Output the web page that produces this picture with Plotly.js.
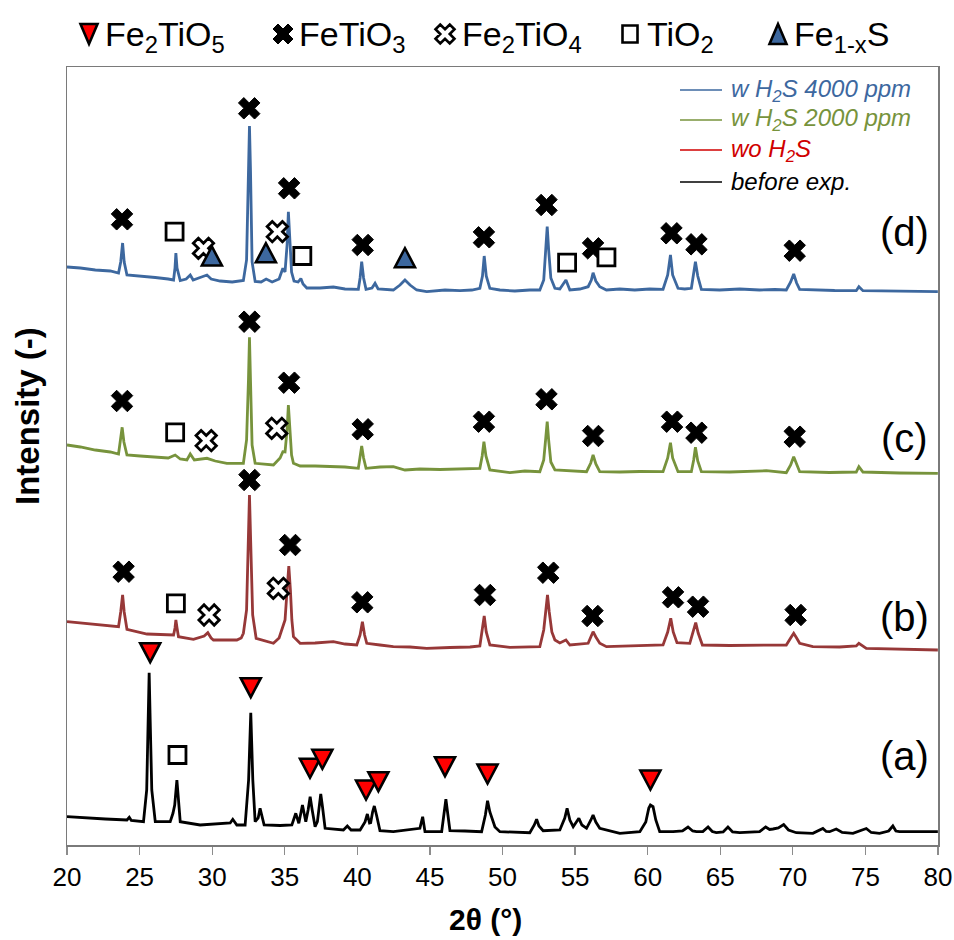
<!DOCTYPE html>
<html>
<head>
<meta charset="utf-8">
<script src="https://cdn.plot.ly/plotly-3.0.1.min.js"></script>
<style>html,body{margin:0;padding:0;background:#fff;}</style>
</head>
<body>
<div id="chart" style="width:954px;height:940px;"></div>
<script>
// XRD patterns: [2θ (°), stacked intensity (a.u.)]
const patternBefore = [
  [20.00,28.3],[21.26,27],[22.64,26],[24.13,25],[24.29,27.7],[24.43,24.5],[25.27,23.3],[25.49,55],[25.60,125],[25.66,172.3],
  [25.73,125],[25.84,55],[26.08,23.3],[27.11,23.3],[27.30,31.7],[27.42,40],[27.57,65],[27.69,40],[27.80,23.3],[29.17,20],
  [30.21,21],[31.24,22],[31.42,25.7],[31.70,20],[32.27,20],[32.51,65],[32.66,132.3],[32.80,65],[32.96,23.3],[33.17,27],
  [33.30,36.7],[33.44,27],[33.58,20],[34.68,19.5],[35.49,20],[35.76,31.7],[35.97,21.7],[36.22,40],[36.45,23.3],[36.61,35],
  [36.75,48.3],[36.89,35],[37.09,18.3],[37.25,23.3],[37.37,37],[37.48,51],[37.61,37],[37.78,16.7],[39.04,15],[39.31,19],
  [39.57,15],[40.19,15],[40.53,23],[40.69,31],[40.84,22],[40.92,22.3],[41.05,33],[41.17,39],[41.32,30],[41.56,14.3],
  [42.48,13.3],[43.63,15],[44.31,16.7],[44.50,28.3],[44.66,13.3],[45.81,13.3],[45.97,30],[46.10,45.7],[46.24,30],[46.38,14.3],
  [47.41,14],[48.56,13.3],[48.82,30],[48.97,44.3],[49.13,33],[49.32,25],[49.48,18],[49.82,13.3],[51.88,12.3],[52.19,20],
  [52.35,25.7],[52.51,19],[52.80,14.3],[53.95,15],[54.29,27],[54.45,36.7],[54.64,25],[54.87,18.3],[55.12,23],[55.26,26.7],
  [55.47,20],[55.79,16.7],[56.09,25],[56.24,30],[56.43,23],[56.70,16.7],[58.08,11.7],[59.46,13.3],[59.87,23],[60.08,37],
  [60.19,40],[60.37,38.3],[60.56,25],[60.83,13.3],[61.75,13.3],[62.40,14],[62.78,18],[63.10,14],[63.36,13.3],[63.80,13.5],
  [64.16,18],[64.45,13.5],[64.73,12.3],[65.20,13],[65.53,18],[65.85,13],[66.34,12.3],[67.71,13.3],[68.13,18],[68.40,15.5],
  [68.63,16],[69.00,17],[69.37,20.5],[69.70,15],[70.24,12.3],[71.38,11.7],[72.07,16.5],[72.30,13.5],[72.53,13.3],[72.99,16],
  [73.40,12.5],[74.14,11.7],[75.06,16.5],[75.40,12.5],[75.97,11.7],[76.60,14],[76.89,19],[77.10,14],[77.35,13.3],[78.73,13],[79.99,13.3]
];

const patternNoH2S = [
  [20.00,223.3],[20.92,222],[21.95,220.5],[22.98,219],[23.55,218.3],[23.70,233],[23.83,250],[23.94,233],[24.13,215.7],[25.51,211],
  [26.42,210.5],[27.34,210],[27.44,217],[27.50,225],[27.58,217],[27.68,208.3],[28.71,205.7],[29.45,209],[29.70,212.3],[29.93,207],
  [30.09,205],[31.70,205],[32.00,207],[32.15,211.7],[32.37,235],[32.50,305],[32.57,350],[32.65,305],[32.79,230],[33.03,206.7],
  [33.65,204],[34.22,201.7],[34.61,207],[34.87,218.3],[35.02,225],[35.16,255],[35.28,279],[35.39,255],[35.49,225],[35.60,208.3],
  [36.06,201.7],[37.09,202],[38.35,203.3],[39.15,201],[39.96,200],[40.19,210],[40.35,223.3],[40.50,210],[40.65,201.7],[41.56,200],
  [42.48,198.3],[43.63,198],[44.78,196.7],[46.38,197.5],[47.76,198],[48.44,199],[48.60,213],[48.74,229],[48.88,213],[49.13,200],
  [50.51,197.7],[51.54,198],[52.57,198.3],[52.84,215],[52.98,237],[53.10,250],[53.22,233],[53.40,213],[53.61,205],[53.95,202],
  [54.37,205],[54.64,200],[55.90,201.7],[56.12,209],[56.24,213.3],[56.43,208],[56.70,201.7],[57.16,198.3],[58.76,199],[61.06,200],
  [61.38,213],[61.59,226.7],[61.76,213],[62.02,202.3],[62.90,201.7],[63.14,213],[63.31,222.3],[63.48,212],[63.77,200],[65.65,199.5],
  [68.17,200],[69.55,200],[69.85,207],[70.06,211.7],[70.26,207],[70.47,201.7],[71.38,198.3],[73.22,198],[74.37,199],[74.55,201.7],
  [75.06,196.7],[77.35,196],[79.99,195]
];

const pattern2000 = [
  [20.00,400],[20.92,398],[21.95,395],[22.98,393],[23.55,391],[23.70,405],[23.80,417.7],[23.92,403],[24.13,390],[25.04,389],
  [26.08,388],[26.97,387],[27.45,390],[27.80,386],[28.26,385],[28.49,391],[28.77,385],[29.64,386.7],[30.21,384],[31.01,381.7],
  [32.15,381.7],[32.37,405],[32.50,465],[32.57,507.7],[32.64,465],[32.75,400],[32.96,381.7],[33.65,381],[34.22,380],[34.68,387],
  [34.87,393.3],[35.02,393],[35.16,415],[35.25,440],[35.35,415],[35.47,390],[35.60,381.7],[36.06,379],[37.09,379],[38.35,378.3],
  [39.15,378],[40.07,376.7],[40.19,387],[40.30,399],[40.43,387],[40.60,376.7],[41.56,378],[42.48,378.3],[43.28,375],[44.31,376],
  [45.69,375.5],[47.07,376],[48.44,376.7],[48.60,389],[48.72,403.3],[48.86,389],[49.13,375],[50.51,372.3],[51.54,374],[52.57,373.3],
  [52.84,385],[52.98,407],[53.08,423.3],[53.18,405],[53.33,383],[53.61,375],[54.64,374],[55.79,373.3],[56.08,382],[56.24,390],
  [56.43,381],[56.70,373.3],[58.08,373],[59.46,373.5],[61.06,373.3],[61.38,387],[61.57,402.3],[61.72,387],[62.09,373.3],[63.01,373.3],
  [63.17,385],[63.29,397.7],[63.45,384],[63.70,373.3],[65.65,373],[68.17,374.3],[69.55,372.3],[69.85,380],[70.06,388.3],[70.26,380],
  [70.47,373.3],[72.53,372.5],[74.37,373],[74.55,378.3],[74.83,373],[77.35,372],[79.99,371.7]
];

const pattern4000 = [
  [20.00,578],[20.92,577],[21.95,575],[22.98,574],[23.55,572],[23.70,583],[23.83,602],[23.94,583],[24.13,570],[25.04,569],
  [26.08,567.5],[26.97,566],[27.34,565],[27.44,577],[27.50,592],[27.58,577],[27.80,564.5],[28.21,566],[28.49,570],[28.69,565],
  [29.31,568],[29.64,570],[29.93,566],[30.55,564],[31.38,563],[32.15,564.5],[32.37,585],[32.50,675],[32.57,719],[32.64,675],
  [32.75,583],[32.96,563.5],[33.37,563],[33.72,566],[34.13,563],[34.61,566],[34.87,576.7],[35.02,573],[35.16,600],[35.25,633.3],
  [35.35,600],[35.47,573],[35.64,564],[35.92,563],[36.11,566.5],[36.26,561],[36.52,557],[37.43,557],[38.35,558],[39.15,556],
  [40.07,555.7],[40.19,567],[40.30,583.3],[40.43,567],[40.60,555.7],[41.01,557],[41.22,561.7],[41.43,556],[42.48,555],[42.94,560],
  [43.28,565],[43.63,560],[44.09,555],[44.78,553.3],[46.04,555],[47.07,554.3],[47.89,555],[48.44,556.7],[48.62,569],[48.74,589],
  [48.88,569],[49.13,556.7],[49.82,555],[50.85,554],[51.88,555],[52.57,555],[52.84,565],[52.98,595],[53.08,618.3],[53.18,595],
  [53.33,567],[53.61,556.7],[53.95,556],[54.37,565],[54.64,555],[55.33,556],[55.90,558.3],[56.12,565],[56.24,572.3],[56.43,564],
  [56.70,558.3],[57.16,555],[58.08,556],[59.11,555],[60.14,556],[61.06,555.7],[61.38,570],[61.57,590],[61.72,570],[62.09,556.7],
  [62.55,556],[63.01,556.7],[63.17,570],[63.29,583.3],[63.45,569],[63.70,555.7],[64.96,555],[66.34,556],[67.71,555],[68.75,555.5],
  [69.55,555],[69.85,563],[70.06,571],[70.26,562],[70.47,555.7],[71.50,555],[72.88,554.5],[74.37,554.3],[74.55,558.3],[74.83,554.3],
  [75.97,554],[77.35,553.5],[78.73,553],[79.99,553.3]
];

// Phase identification markers: [2θ (°), label height (a.u.)]
const markFe2TiO5 = [[25.73,192.3],[32.66,157.3],[36.74,76.7],[37.59,85.7],[40.60,55],[41.45,63.3],[46.04,78.3],[48.97,71],[60.19,65]];
const markFeTiO3 = [
  [23.79,625.7],[32.55,736.7],[35.30,656.7],[40.37,600],[48.72,607.7],[53.03,640],[56.24,596.7],[61.64,611.7],[63.36,600.7],[70.13,594.3],
  [23.79,444],[32.57,523.3],[35.30,462.3],[40.37,415.7],[48.72,423.3],[53.03,445.7],[56.24,409],[61.68,423.3],[63.36,412.3],[70.13,408.3],
  [23.90,273.3],[32.57,365],[35.37,300],[40.34,242.7],[48.79,250],[53.15,272.3],[56.20,229],[61.75,247.7],[63.47,238.3],[70.19,230]
];
const markFe2TiO4 = [[29.40,596.7],[34.49,613.3],[29.59,404.3],[34.45,416.7],[29.79,230],[34.56,256.7]];
const markTiO2 = [[27.41,613.3],[36.21,589],[54.45,582.3],[57.16,587.7],[27.45,412.7],[27.50,241.7],[27.61,90]];
const markFeS = [[29.98,589],[33.70,592.3],[43.28,587.3]];

const xTicks = [20, 25, 30, 35, 40, 45, 50, 55, 60, 65, 70, 75, 80];
const seriesNames = ['before exp.', 'wo H<sub>2</sub>S', 'w H<sub>2</sub>S 2000 ppm', 'w H<sub>2</sub>S 4000 ppm'];
const phaseNames = ['Fe<sub>2</sub>TiO<sub>5</sub>', 'FeTiO<sub>3</sub>', 'Fe<sub>2</sub>TiO<sub>4</sub>', 'TiO<sub>2</sub>', 'Fe<sub>1-x</sub>S'];
const panelLabels = ['(a)', '(b)', '(c)', '(d)'];

// ---------- page geometry ----------
const W = 954, H = 940;
const M = {l: 67, r: 16, t: 67, b: 95};
const PW = W - M.l - M.r, PH = H - M.t - M.b;
const fx = px => (px - M.l) / PW;          // page pixel -> paper x
const fy = py => (H - M.b - py) / PH;      // page pixel -> paper y

const FONT = 'Liberation Sans, Arial, Helvetica, sans-serif';
const lineColors = ['#000000', '#973838', '#77933c', '#3d689f'];
const keyColors  = ['#000000', '#d00000', '#77933c', '#3d689f'];
const blueFill = '#3d689f';

const col = (arr, i) => arr.map(p => p[i]);

// ---------- glyph paths (pixel units, y up) ----------
function triPath(w, h, down) {
  const a = w / 2, b = h / 2;
  return down ? `M${-a},${b} L${a},${b} L0,${-b} Z` : `M${-a},${-b} L${a},${-b} L0,${b} Z`;
}
function crossPath(w, h) {
  const a = w / 4, b = h / 4;
  const pts = [[0,b],[a,2*b],[2*a,b],[a,0],[2*a,-b],[a,-2*b],[0,-b],[-a,-2*b],[-2*a,-b],[-a,0],[-2*a,b],[-a,2*b]];
  return 'M' + pts.map(p => p[0].toFixed(2) + ',' + p[1].toFixed(2)).join(' L') + ' Z';
}
function rectPath(w, h) {
  const a = w / 2, b = h / 2;
  return `M${-a},${-b} L${a},${-b} L${a},${b} L${-a},${b} Z`;
}
function glyph(xref, yref, x, y, path, fill, lw) {
  return {type: 'path', layer: 'above', xref, yref, xsizemode: 'pixel', ysizemode: 'pixel',
          xanchor: x, yanchor: y, path, fillcolor: fill, line: {color: '#000', width: lw}};
}

// ---------- traces ----------
const patterns = [patternBefore, patternNoH2S, pattern2000, pattern4000];
const traces = patterns.map((p, i) => ({
  type: 'scatter', mode: 'lines', x: col(p, 0), y: col(p, 1), name: seriesNames[i],
  line: {color: lineColors[i], width: 2.8}, showlegend: false, hoverinfo: 'skip'
}));

traces.push({
  type: 'scatter', mode: 'markers', x: col(markFeTiO3, 0), y: col(markFeTiO3, 1), name: phaseNames[1],
  marker: {symbol: 'x', size: 19, color: '#000', line: {color: '#000', width: 1}}, showlegend: false, hoverinfo: 'skip'
});
traces.push({
  type: 'scatter', mode: 'markers', x: col(markFe2TiO4, 0), y: col(markFe2TiO4, 1), name: phaseNames[2],
  marker: {symbol: 'x', size: 18, color: '#fff', line: {color: '#000', width: 2.8}}, showlegend: false, hoverinfo: 'skip'
});
traces.push({
  type: 'scatter', mode: 'markers', x: col(markTiO2, 0), y: col(markTiO2, 1), name: phaseNames[3],
  marker: {symbol: 'square', size: 17, color: '#fff', line: {color: '#000', width: 2.8}}, showlegend: false, hoverinfo: 'skip'
});

// triangles drawn as shapes so their proportions stay close to equilateral
const shapes = [];
markFe2TiO5.forEach(p => shapes.push(glyph('x', 'y', p[0], p[1], triPath(20, 19, true), '#ff0000', 2.6)));
markFeS.forEach(p => shapes.push(glyph('x', 'y', p[0], p[1], triPath(20, 19, false), blueFill, 2.6)));

// ---------- phase key along the top ----------
const keyY = 34;
const keyItems = [
  {sx: 89,  tx: 103, path: triPath(17, 20, true),  fill: '#ff0000', lw: 2.6},
  {sx: 283, tx: 297, path: crossPath(20, 20),      fill: '#000',    lw: 1},
  {sx: 445, tx: 460, path: crossPath(19, 19),      fill: '#fff',    lw: 2.6},
  {sx: 630, tx: 645, path: rectPath(15, 17),       fill: '#fff',    lw: 2.6},
  {sx: 778, tx: 792, path: triPath(17, 20, false), fill: blueFill,  lw: 2.6}
];
const annotations = [];
keyItems.forEach((k, i) => {
  shapes.push(glyph('paper', 'paper', fx(k.sx), fy(keyY), k.path, k.fill, k.lw));
  annotations.push({xref: 'paper', yref: 'paper', x: fx(k.tx), y: fy(keyY + 2), xanchor: 'left', yanchor: 'middle',
    text: phaseNames[i], showarrow: false, font: {family: FONT, size: 34, color: '#000'}});
});

// ---------- series key (top right, newest first) ----------
const keyRows = [90, 120, 150, 182];
[3, 2, 1, 0].forEach((s, r) => {
  const y = fy(keyRows[r]);
  shapes.push({type: 'line', xref: 'paper', yref: 'paper', x0: fx(680), x1: fx(722), y0: y, y1: y,
               line: {color: keyColors[s], width: 1.5}});
  annotations.push({xref: 'paper', yref: 'paper', x: fx(729), y: y, xanchor: 'left', yanchor: 'middle',
    text: '<i>' + seriesNames[s] + '</i>', showarrow: false, font: {family: FONT, size: 24, color: keyColors[s]}});
});

// ---------- panel labels ----------
const panelY = [756, 617, 438, 232];
panelLabels.forEach((t, i) => annotations.push({
  xref: 'paper', yref: 'paper', x: fx(904), y: fy(panelY[i]), xanchor: 'center', yanchor: 'middle',
  text: t, showarrow: false, font: {family: FONT, size: 40, color: '#000'}
}));

// ---------- axis titles ----------
annotations.push({xref: 'paper', yref: 'paper', x: fx(485), y: fy(920), xanchor: 'center', yanchor: 'middle',
  text: '<b>2θ (°)</b>', showarrow: false, font: {family: FONT, size: 30, color: '#000'}});
annotations.push({xref: 'paper', yref: 'paper', x: fx(27), y: fy(416), xanchor: 'center', yanchor: 'middle',
  text: '<b>Intensity (-)</b>', textangle: -90, showarrow: false, font: {family: FONT, size: 33, color: '#000'}});

const layout = {
  width: W, height: H, margin: M,
  paper_bgcolor: '#fff', plot_bgcolor: '#fff',
  font: {family: FONT, color: '#000'},
  showlegend: false,
  xaxis: {
    range: [20, 80], tickmode: 'array', tickvals: xTicks, ticktext: xTicks.map(String),
    ticks: 'outside', ticklen: 8, tickwidth: 1.3, tickcolor: '#8c8c8c',
    showline: true, linecolor: '#7a7a7a', linewidth: 1.5, mirror: true,
    showgrid: false, zeroline: false, tickfont: {family: FONT, size: 26, color: '#000'}
  },
  yaxis: {
    range: [0, 778], showticklabels: false, ticks: '',
    showline: true, linecolor: '#7a7a7a', linewidth: 1.5, mirror: true,
    showgrid: false, zeroline: false
  },
  shapes, annotations
};

Plotly.newPlot('chart', traces, layout, {displayModeBar: false, staticPlot: true});
</script>
</body>
</html>
